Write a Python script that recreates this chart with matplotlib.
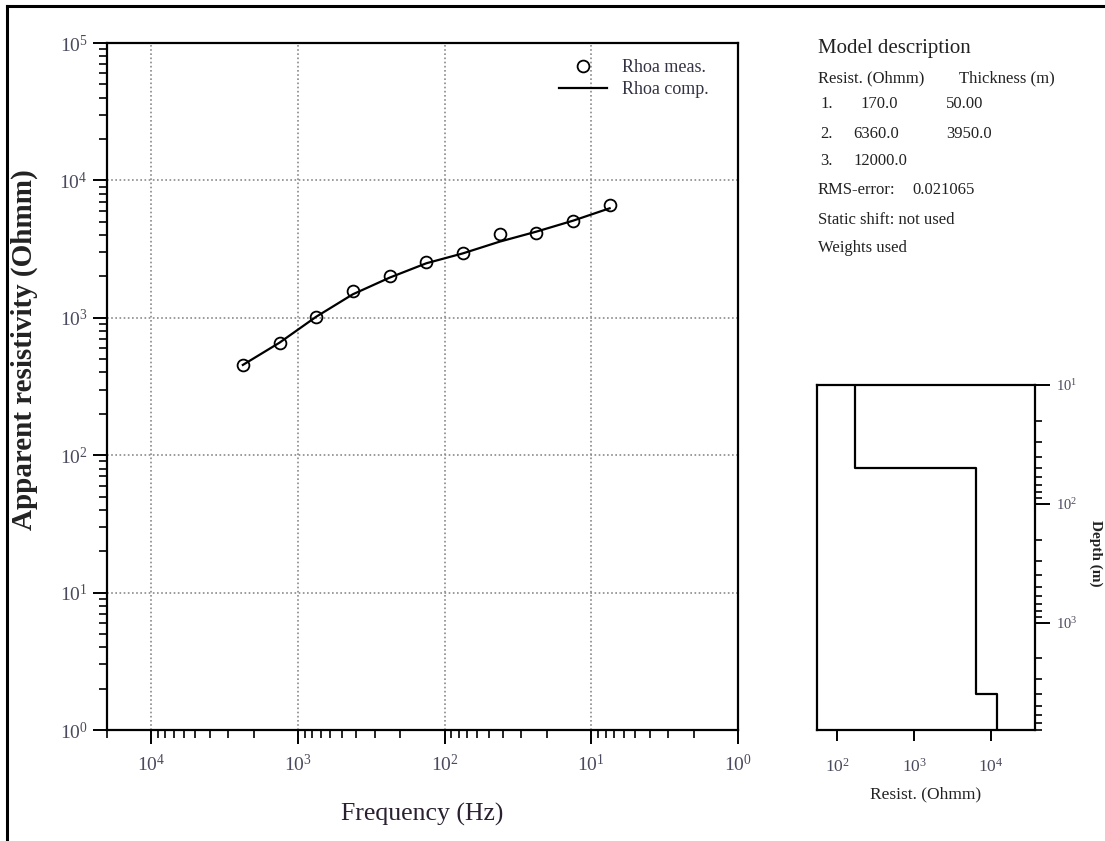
import matplotlib
matplotlib.use("Agg")
import matplotlib.pyplot as plt
from matplotlib.lines import Line2D
from matplotlib.ticker import LogLocator, NullFormatter, NullLocator

# ---------------- data ----------------
freq_hz = [2371, 1334, 750, 422, 237, 133, 75, 42.2, 23.7, 13.3, 7.5]
rhoa_meas = [454, 656, 1014, 1567, 2014, 2547, 2962, 4074, 4141, 5070, 6620]
rhoa_comp = [454, 659, 1018, 1483, 1960, 2495, 2944, 3581, 4236, 5093, 6266]

layer_resist = [170.0, 6360.0, 12000.0]
layer_thick = [50.00, 3950.0]
rms_error = 0.021065
depth_top = 10
depth_bottom = 8000

freq_lim = (2e4, 1)
rho_lim = (1, 1e5)
res_lim = (54, 38000)

# ---------------- style ----------------
plt.rcParams['font.family'] = ['Liberation Serif', 'DejaVu Serif']
plt.rcParams['mathtext.fontset'] = 'custom'
plt.rcParams['mathtext.rm'] = 'Liberation Serif'
plt.rcParams['mathtext.it'] = 'Liberation Serif:italic'
plt.rcParams['mathtext.bf'] = 'Liberation Serif:bold'
plt.rcParams['mathtext.default'] = 'regular'

W, H = 1105, 841
fig = plt.figure(figsize=(W / 100, H / 100), dpi=100)
fig.patch.set_facecolor('white')

tick_col = '#4a4a5e'
text_col = '#222222'

def fx(px):
    return px / W

def fy(py):
    return 1 - py / H

# ---------------- main axes ----------------
ax = fig.add_axes([fx(107), fy(730), fx(738) - fx(107), fy(43) - fy(730)])
ax.set_xscale('log')
ax.set_yscale('log')
ax.set_xlim(*freq_lim)
ax.set_ylim(*rho_lim)

ax.plot(freq_hz, rhoa_comp, color='black', lw=1.6, zorder=3, label='Rhoa comp.')
ax.plot(freq_hz, rhoa_meas, linestyle='none', marker='o', markersize=8.5,
        markerfacecolor='none', markeredgecolor='black', markeredgewidth=1.3,
        zorder=4, label='Rhoa meas.')

ax.xaxis.set_major_locator(LogLocator(base=10, numticks=10))
ax.xaxis.set_minor_locator(LogLocator(base=10, subs=range(2, 10), numticks=20))
ax.xaxis.set_minor_formatter(NullFormatter())
ax.yaxis.set_major_locator(LogLocator(base=10, numticks=10))
ax.yaxis.set_minor_locator(LogLocator(base=10, subs=range(2, 10), numticks=20))
ax.yaxis.set_minor_formatter(NullFormatter())

ax.grid(True, which='major', linestyle=(0, (1, 1.5)), color='#8a8a8a', lw=1.2)
for s in ax.spines.values():
    s.set_linewidth(1.6)
ax.tick_params(which='major', direction='out', length=10, width=1.4,
               labelsize=14, colors='black', labelcolor=tick_col, pad=6)
ax.tick_params(which='minor', direction='out', length=6, width=1.2, colors='black')
ax.tick_params(axis='y', which='major', pad=4)
ax.tick_params(axis='x', which='major', pad=7)

ax.set_xlabel('Frequency (Hz)', fontsize=18.5, color='#2a2030', labelpad=20)
ax.set_ylabel('Apparent resistivity (Ohmm)', fontsize=21, fontweight='bold',
              color=text_col)
ax.yaxis.label.set_va('center')
ax.yaxis.set_label_coords((24 - 107) / 631, (730 - 350) / 687)

leg = ax.legend(handles=[ax.lines[1], ax.lines[0]], loc='upper right',
                bbox_to_anchor=(0.973, 0.995), frameon=False, fontsize=13,
                handlelength=2.7, handletextpad=0.8, labelspacing=0.3,
                borderaxespad=0.3)
for t in leg.get_texts():
    t.set_color('#333344')

# ---------------- model panel ----------------
axm = fig.add_axes([fx(817), fy(730), fx(1035) - fx(817), fy(385) - fy(730)])
axm.set_xscale('log')
axm.set_yscale('log')
axm.set_xlim(*res_lim)
axm.set_ylim(depth_bottom, depth_top)

bounds = [depth_top]
d = 0.0
for t in layer_thick:
    d += t
    bounds.append(d)
bounds.append(depth_bottom)
xs, ys = [], []
for i, r in enumerate(layer_resist):
    xs += [r, r]
    ys += [bounds[i], bounds[i + 1]]
axm.plot(xs, ys, color='black', lw=1.6, zorder=3)

axm.xaxis.set_major_locator(LogLocator(base=10, numticks=10))
axm.xaxis.set_minor_locator(NullLocator())
axm.yaxis.set_major_locator(LogLocator(base=10, numticks=10))
axm.yaxis.set_minor_locator(LogLocator(base=10, subs=range(2, 10), numticks=20))
axm.yaxis.set_minor_formatter(NullFormatter())
axm.yaxis.tick_right()
for s in axm.spines.values():
    s.set_linewidth(1.6)
axm.tick_params(axis='x', which='major', direction='out', length=8, width=1.4,
                labelsize=12.5, labelcolor=tick_col, pad=12)
axm.tick_params(axis='y', which='major', direction='out', length=11, width=1.4,
                labelsize=10.5, labelcolor=tick_col, pad=4)
axm.tick_params(axis='y', which='minor', direction='out', length=5, width=1.2)

axm.set_xlabel('Resist. (Ohmm)', fontsize=12.5, color=text_col, labelpad=8)
fig.text(fx(1096), fy(553), 'Depth (m)', fontsize=11, fontweight='bold',
         rotation=270, color=text_col, ha='center', va='center')

# ---------------- model description text ----------------
fig.text(fx(818), fy(48), 'Model description', fontsize=15, color=text_col,
         va='center', ha='left')
small = dict(fontsize=12, color=text_col, va='center', ha='left')
fig.text(fx(818), fy(78), 'Resist. (Ohmm)', **small)
fig.text(fx(959), fy(78), 'Thickness (m)', **small)
rows_y = [104, 134, 161]
for i, r in enumerate(layer_resist):
    fig.text(fx(820), fy(rows_y[i]), f'{i + 1}.', **small)
    rx = 860 if i == 0 else 853
    fig.text(fx(rx), fy(rows_y[i]), f'{r:.1f}', **small)
    if i < len(layer_thick):
        tstr = f'{layer_thick[i]:.2f}' if layer_thick[i] < 100 else f'{layer_thick[i]:.1f}'
        fig.text(fx(946), fy(rows_y[i]), tstr, **small)
fig.text(fx(818), fy(190), 'RMS-error:', **small)
fig.text(fx(912), fy(190), f'{rms_error:.6f}', **small)
fig.text(fx(818), fy(220), 'Static shift: not used', **small)
fig.text(fx(818), fy(248), 'Weights used', **small)

# ---------------- figure frame ----------------
fig.add_artist(Line2D([fx(7), 1.0], [fy(6), fy(6)], transform=fig.transFigure,
                      color='black', lw=2.2))
fig.add_artist(Line2D([fx(7), fx(7)], [fy(6), 0.0], transform=fig.transFigure,
                      color='black', lw=2.2))

fig.savefig('out.png', dpi=100, facecolor='white')
